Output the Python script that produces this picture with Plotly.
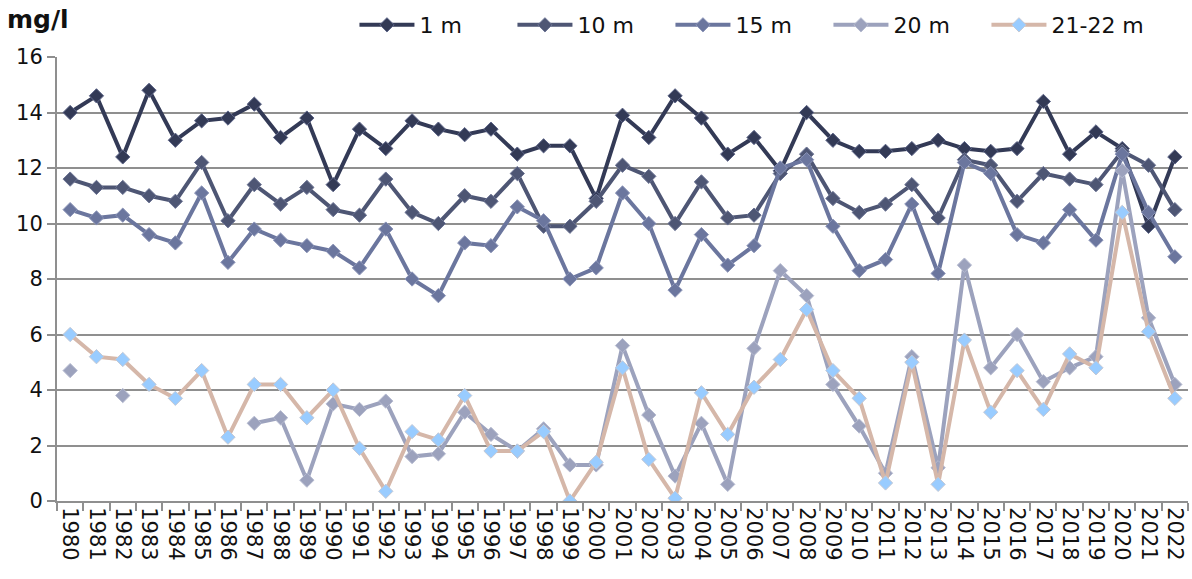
import plotly.graph_objects as go

# Categories: sampling years
years = [str(y) for y in range(1980, 2023)]

# Concentration (mg/l) by depth
depth_1m = [14.0, 14.6, 12.4, 14.8, 13.0, 13.7, 13.8, 14.3, 13.1, 13.8,
            11.4, 13.4, 12.7, 13.7, 13.4, 13.2, 13.4, 12.5, 12.8, 12.8,
            10.9, 13.9, 13.1, 14.6, 13.8, 12.5, 13.1, 11.9, 14.0, 13.0,
            12.6, 12.6, 12.7, 13.0, 12.7, 12.6, 12.7, 14.4, 12.5, 13.3,
            12.7, 9.9, 12.4]
depth_10m = [11.6, 11.3, 11.3, 11.0, 10.8, 12.2, 10.1, 11.4, 10.7, 11.3,
             10.5, 10.3, 11.6, 10.4, 10.0, 11.0, 10.8, 11.8, 9.9, 9.9,
             10.8, 12.1, 11.7, 10.0, 11.5, 10.2, 10.3, 11.8, 12.5, 10.9,
             10.4, 10.7, 11.4, 10.2, 12.3, 12.1, 10.8, 11.8, 11.6, 11.4,
             12.6, 12.1, 10.5]
depth_15m = [10.5, 10.2, 10.3, 9.6, 9.3, 11.1, 8.6, 9.8, 9.4, 9.2,
             9.0, 8.4, 9.8, 8.0, 7.4, 9.3, 9.2, 10.6, 10.1, 8.0,
             8.4, 11.1, 10.0, 7.6, 9.6, 8.5, 9.2, 12.0, 12.3, 9.9,
             8.3, 8.7, 10.7, 8.2, 12.2, 11.8, 9.6, 9.3, 10.5, 9.4,
             12.5, 10.4, 8.8]
depth_20m = [4.7, None, 3.8, None, None, None, None, 2.8, 3.0, 0.75,
             3.5, 3.3, 3.6, 1.6, 1.7, 3.2, 2.4, 1.8, 2.6, 1.3,
             1.3, 5.6, 3.1, 0.9, 2.8, 0.6, 5.5, 8.3, 7.4, 4.2,
             2.7, 1.0, 5.2, 1.2, 8.5, 4.8, 6.0, 4.3, 4.8, 5.2,
             11.9, 6.6, 4.2]
depth_21_22m = [6.0, 5.2, 5.1, 4.2, 3.7, 4.7, 2.3, 4.2, 4.2, 3.0,
                4.0, 1.9, 0.35, 2.5, 2.2, 3.8, 1.8, 1.8, 2.5, 0.0,
                1.4, 4.8, 1.5, 0.1, 3.9, 2.4, 4.1, 5.1, 6.9, 4.7,
                3.7, 0.65, 5.0, 0.6, 5.8, 3.2, 4.7, 3.3, 5.3, 4.8,
                10.4, 6.1, 3.7]

series = [
    ("1 m", depth_1m, "#333a56", "#333a56", "#5d6588"),
    ("10 m", depth_10m, "#4e5674", "#4e5674", "#6c7494"),
    ("15 m", depth_15m, "#6b769e", "#6b769e", "#8c95b8"),
    ("20 m", depth_20m, "#9ca2bd", "#9ca2bd", "#b6bbd0"),
    ("21-22 m", depth_21_22m, "#d5b7a9", "#99ccff", "#c4c8d4"),
]

FONT = "DejaVu Sans"

fig = go.Figure()
for name, vals, line_col, fill_col, edge_col in series:
    fig.add_trace(go.Scatter(
        x=years, y=vals, name=name, mode="lines+markers",
        connectgaps=False,
        line=dict(color=line_col, width=4),
        marker=dict(symbol="diamond", size=11, color=fill_col,
                    line=dict(color=edge_col, width=1)),
    ))

fig.update_layout(
    width=1192, height=579,
    margin=dict(l=57, r=4, t=54, b=78),
    paper_bgcolor="white", plot_bgcolor="white",
    font=dict(family=FONT, size=21, color="#111111"),
    showlegend=True,
    legend=dict(orientation="h", x=0.263, y=1.072, xanchor="left", yanchor="middle",
                font=dict(family=FONT, size=22, color="#111111"),
                itemwidth=55, entrywidth=88, traceorder="normal",
                bgcolor="rgba(0,0,0,0)", borderwidth=0),
    annotations=[dict(text="<b>mg/l</b>", xref="paper", yref="paper",
                      x=-0.046, y=1.0, xanchor="left", yanchor="bottom",
                      yshift=21, showarrow=False,
                      font=dict(family=FONT, size=25, color="#111111"))],
)

fig.update_xaxes(
    type="category", range=[-0.5, len(years) - 0.5],
    tickson="boundaries", ticks="outside", ticklen=8, tickwidth=2,
    tickcolor="#8f8f8f", tickangle=90,
    showline=True, linecolor="#8f8f8f", linewidth=2,
    showgrid=False, zeroline=False,
    tickfont=dict(family=FONT, size=21, color="#111111"),
)
fig.update_yaxes(
    range=[0, 16], dtick=2, tick0=0,
    ticks="outside", ticklen=8, tickwidth=2, tickcolor="#8f8f8f",
    showline=True, linecolor="#8f8f8f", linewidth=2,
    showgrid=True, gridcolor="#8f8f8f", gridwidth=2,
    zeroline=False,
    tickfont=dict(family=FONT, size=21, color="#111111"),
)

fig.write_html("out.html")
